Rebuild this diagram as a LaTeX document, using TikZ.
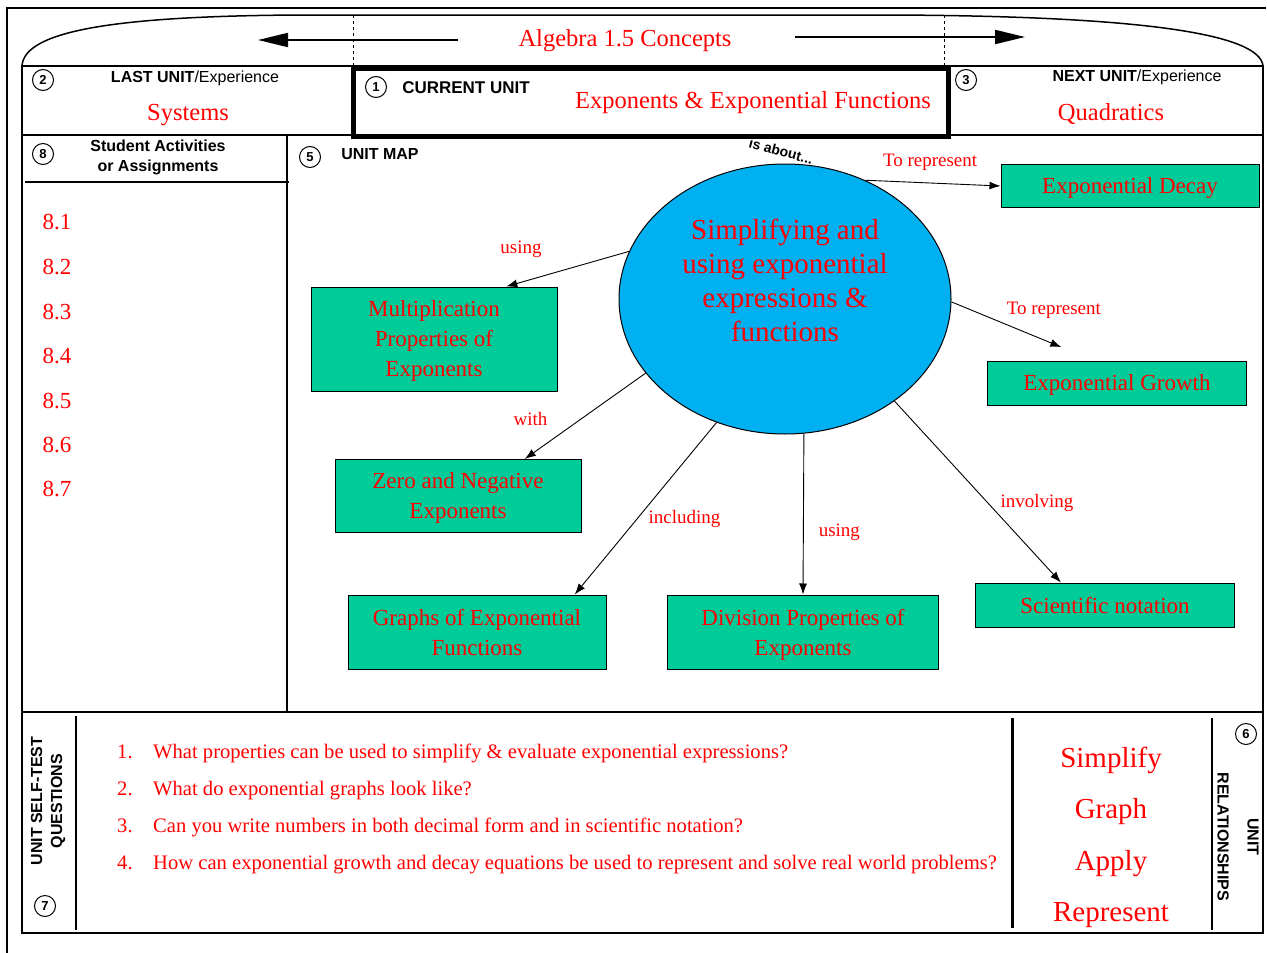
\documentclass[tikz,border=0pt]{standalone}
\usepackage{fontspec}
\setmainfont{Liberation Serif}
\setsansfont{Liberation Sans}
\usetikzlibrary{arrows.meta,shapes.geometric}
\definecolor{mapgreen}{HTML}{00CC99}
\definecolor{mapblue}{HTML}{00B0F0}
\definecolor{mapred}{HTML}{FF0000}
\tikzset{cn/.style={draw,circle,line width=1pt,minimum size=21pt,inner sep=0pt,font=\sffamily\bfseries\fontsize{13}{13}\selectfont}}
\tikzset{hd/.style={inner sep=0pt,font=\sffamily\bfseries\fontsize{16}{19}\selectfont}}
\tikzset{rt/.style={inner sep=0pt,text depth=0pt,text=mapred,font=\fontsize{24.5}{28}\selectfont}}
\tikzset{bx/.style={draw,line width=1pt,fill=mapgreen,text=mapred,align=center,inner sep=0pt,text depth=0pt,font=\fontsize{23}{30}\selectfont}}
\tikzset{lb/.style={inner sep=0pt,text depth=0pt,text=mapred,font=\fontsize{19}{21}\selectfont}}
\tikzset{ar/.style={line width=0.9pt,-{Latex[length=11pt,width=8pt]}}}
\tikzset{qs/.style={anchor=west,inner sep=0pt,text depth=0pt,text=mapred,font=\fontsize{20.6}{22}\selectfont}}

\begin{document}
\begin{tikzpicture}[x=1pt,y=-1pt]
                \useasboundingbox (0,0) rectangle (1267,953);
                % page edge and dome
                \draw[line width=1.2pt] (7,953) -- (7,8) -- (1266,8);
                \draw[line width=1.5pt] (22,66) .. controls (24,30) and (120,16) .. (300,15) -- (890,15) .. controls (1150,16) and (1260,35) .. (1263,66);
                \draw[dashed,line width=0.8pt] (353,15) -- (353,66);
                \draw[dashed,line width=0.8pt] (944,15) -- (944,66);
                \node[rt] (title) at (625,38) {Algebra 1.5 Concepts};
                \coordinate (la0) at (458,40);
                \coordinate (la1) at (258,40);
                \coordinate (ra0) at (795,37);
                \coordinate (ra1) at (1025,37);
                \draw[line width=2pt,-{Triangle[length=30pt,width=14pt]}] (la0) -- (la1);
                \draw[line width=2pt,-{Triangle[length=30pt,width=14pt]}] (ra0) -- (ra1);
                % frame
                \draw[line width=2pt] (22,66) rectangle (1263,933);
                \draw[line width=2pt] (22,135) -- (1263,135);
                \draw[line width=2pt] (22,712) -- (1263,712);
                \draw[line width=2pt] (287,135) -- (287,712);
                \draw[line width=1.2pt] (25,182) -- (289,182);
                \draw[line width=2pt] (76,716) -- (76,930);
                \draw[line width=3pt] (1012,718) -- (1012,928);
                \draw[line width=1.2pt] (1212,718) -- (1212,930);
                \draw[line width=5pt,fill=white] (353,68) rectangle (948,136);
                % top cells
                \node[cn] (n2) at (43,80) {2};
                \node[hd] (last) at (195,78) {LAST UNIT\mdseries/Experience};
                \node[rt] (systems) at (188,112) {Systems};
                \node[cn] (n1) at (376,87) {1};
                \node[hd,font=\sffamily\bfseries\fontsize{17}{19}\selectfont] (current) at (466,88) {CURRENT UNIT};
                \node[rt] (unit) at (753,100) {Exponents \& Exponential Functions};
                \node[cn] (n3) at (966,80) {3};
                \node[hd] (next) at (1137,77) {NEXT UNIT\mdseries/Experience};
                \node[rt] (quad) at (1111,112) {Quadratics};
                % left column
                \node[cn] (n8) at (43,154) {8};
                \node[hd,align=center,font=\sffamily\bfseries\fontsize{16}{20}\selectfont] (acts) at (158,157) {Student Activities\\or Assignments};
                \node[rt,font=\fontsize{23}{28}\selectfont] (s1) at (57,222) {8.1};
                \node[rt,font=\fontsize{23}{28}\selectfont] (s2) at (57,267) {8.2};
                \node[rt,font=\fontsize{23}{28}\selectfont] (s3) at (57,312) {8.3};
                \node[rt,font=\fontsize{23}{28}\selectfont] (s4) at (57,356) {8.4};
                \node[rt,font=\fontsize{23}{28}\selectfont] (s5) at (57,401) {8.5};
                \node[rt,font=\fontsize{23}{28}\selectfont] (s6) at (57,445) {8.6};
                \node[rt,font=\fontsize{23}{28}\selectfont] (s7) at (57,489) {8.7};
                % unit map
                \node[cn] (n5) at (310,157) {5};
                \node[hd] (umap) at (380,154) {UNIT MAP};
                \node[draw,line width=1pt,ellipse,fill=mapblue,minimum width=332pt,minimum height=270pt] (core) at (785,299) {};
                \node[align=center,text depth=0pt,text=mapred,font=\fontsize{29}{34}\selectfont] (coretxt) at (785,280) {Simplifying and\\using exponential\\expressions \&\\functions};
                \node[font=\sffamily\bfseries\fontsize{14}{14}\selectfont,rotate=-15] (about) at (781,151) {is about...};
                \node[bx,minimum width=258pt,minimum height=43pt] (decay) at (1130,186) {Exponential Decay};
                \node[bx,minimum width=246pt,minimum height=104pt] (mult) at (434,339) {Multiplication\\Properties of\\Exponents};
                \node[bx,minimum width=259pt,minimum height=44pt] (growth) at (1117,383) {Exponential Growth};
                \node[bx,minimum width=246pt,minimum height=73pt] (zero) at (458,496) {Zero and Negative\\Exponents};
                \node[bx,minimum width=258pt,minimum height=74pt] (graphs) at (477,632) {Graphs of Exponential\\Functions};
                \node[bx,minimum width=271pt,minimum height=74pt] (division) at (803,632) {Division Properties of\\Exponents};
                \node[bx,minimum width=259pt,minimum height=44pt] (sci) at (1105,605) {Scientific notation};
                \draw[ar] (core.56) -- (decay.west) node[lb,pos=.48,yshift=23pt] (l1) {To represent};
                \draw[ar] (core.163) -- (mult.36) node[lb,pos=.88,yshift=35pt] (l2) {using};
                \draw[ar,shorten >=35pt] (core.-1) -- (growth.136) node[lb,pos=.72,yshift=36pt] (l3) {To represent};
                \draw[ar] (core.208) -- (zero.29) node[lb,pos=.53,xshift=-51pt] (l4) {with};
                \draw[ar] (core.241) -- (graphs.21.5) node[lb,pos=.55,xshift=46pt] (l5) {including};
                \draw[ar] (core.278) -- (division.north) node[lb,pos=.6,xshift=36pt] (l6) {using};
                \draw[ar] (core.-43) -- (sci.153) node[lb,pos=.55,xshift=51pt] (l7) {involving};
                % bottom row
                \node[hd,rotate=90,align=center,font=\sffamily\bfseries\fontsize{16}{20}\selectfont] (selftest) at (48,801) {UNIT SELF-TEST\\QUESTIONS};
                \node[cn] (n7) at (45,906) {7};
                \node[qs] (q1) at (117,751) {\makebox[36pt][l]{1.}What properties can be used to simplify \& evaluate exponential expressions?};
                \node[qs] (q2) at (117,788) {\makebox[36pt][l]{2.}What do exponential graphs look like?};
                \node[qs] (q3) at (117,825) {\makebox[36pt][l]{3.}Can you write numbers in both decimal form and in scientific notation?};
                \node[qs] (q4) at (117,862) {\makebox[36pt][l]{4.}How can exponential growth and decay equations be used to represent and solve real world problems?};
                \node[rt,font=\fontsize{29}{32}\selectfont] (w1) at (1111,757) {Simplify};
                \node[rt,font=\fontsize{29}{32}\selectfont] (w2) at (1111,808) {Graph};
                \node[rt,font=\fontsize{29}{32}\selectfont] (w3) at (1111,860) {Apply};
                \node[rt,font=\fontsize{29}{32}\selectfont] (w4) at (1111,912) {Represent};
                \node[cn] (n6) at (1246,734) {6};
                \node[hd,rotate=-90,align=center,font=\sffamily\bfseries\fontsize{16}{30}\selectfont] (rel) at (1238,837) {UNIT\\RELATIONSHIPS};
            \end{tikzpicture}
\end{document}
